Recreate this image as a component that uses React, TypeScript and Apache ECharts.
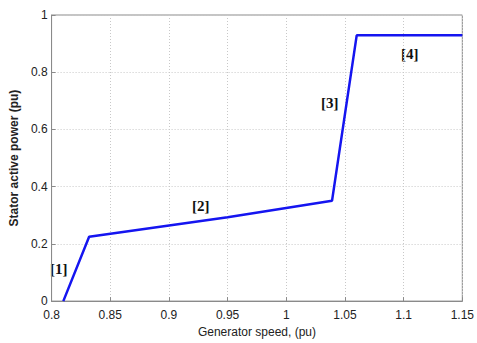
import React, { useEffect, useRef } from "react";
import * as echarts from "echarts";

const speed = [0.81, 0.832, 0.95, 1.039, 1.06, 1.15];
const power = [0, 0.225, 0.293, 0.351, 0.929, 0.929];
const regionLabels = ["[1]", "[2]", "[3]", "[4]"];
const xTitle = "Generator speed, (pu)";
const yTitle = "Stator active power (pu)";

export default function App() {
  const ref = useRef<HTMLDivElement>(null);
  useEffect(() => {
    document.body.style.margin = "0";
    if (!ref.current) return;
    const chart = echarts.init(ref.current, undefined, { renderer: "svg" });
    const labelPos = [
      [50, 261],
      [192, 198],
      [321, 95],
      [401, 46],
    ];
    chart.setOption({
      animation: false,
      backgroundColor: "#ffffff",
      grid: {
        left: 46,
        right: 11,
        top: 15,
        bottom: 36,
        show: true,
        borderColor: "#8a8a8a",
        borderWidth: 1,
      },
      xAxis: {
        type: "value",
        min: 0.8,
        max: 1.15,
        interval: 0.05,
        name: xTitle,
        nameLocation: "middle",
        nameGap: 24,
        nameTextStyle: { fontFamily: "Liberation Sans", fontSize: 12, color: "#222" },
        axisLine: { show: true, lineStyle: { color: "#8a8a8a" } },
        axisTick: { show: true, inside: true, length: 4, lineStyle: { color: "#8a8a8a" } },
        axisLabel: {
          fontFamily: "Liberation Sans",
          fontSize: 12,
          color: "#222",
          margin: 8,
          formatter: (v: number) => String(Math.round(v * 100) / 100),
        },
        splitLine: { show: true, lineStyle: { color: "#c8c8c8", type: [1, 2] } },
      },
      yAxis: {
        type: "value",
        min: 0,
        max: 1,
        interval: 0.2,
        name: yTitle,
        nameLocation: "middle",
        nameGap: 28,
        nameTextStyle: {
          fontFamily: "Liberation Sans",
          fontSize: 12,
          fontWeight: "bold",
          color: "#222",
        },
        axisLine: { show: true, lineStyle: { color: "#8a8a8a" } },
        axisTick: { show: true, inside: true, length: 4, lineStyle: { color: "#8a8a8a" } },
        axisLabel: {
          fontFamily: "Liberation Sans",
          fontSize: 12,
          color: "#222",
          margin: 4,
          formatter: (v: number) => String(Math.round(v * 10) / 10),
        },
        splitLine: { show: true, lineStyle: { color: "#c8c8c8", type: [1, 2] } },
      },
      series: [
        {
          type: "line",
          data: speed.map((s, i) => [s, power[i]]),
          showSymbol: false,
          lineStyle: { color: "#1515f0", width: 2.5 },
          itemStyle: { color: "#1515f0" },
        },
      ],
      graphic: regionLabels.map((t, i) => ({
        type: "text",
        x: labelPos[i][0],
        y: labelPos[i][1],
        style: {
          text: t,
          font: "bold 15px 'Liberation Serif'",
          fill: "#111",
        },
      })),
    });
    return () => chart.dispose();
  }, []);
  return <div ref={ref} style={{ width: 477, height: 343 }} />;
}
